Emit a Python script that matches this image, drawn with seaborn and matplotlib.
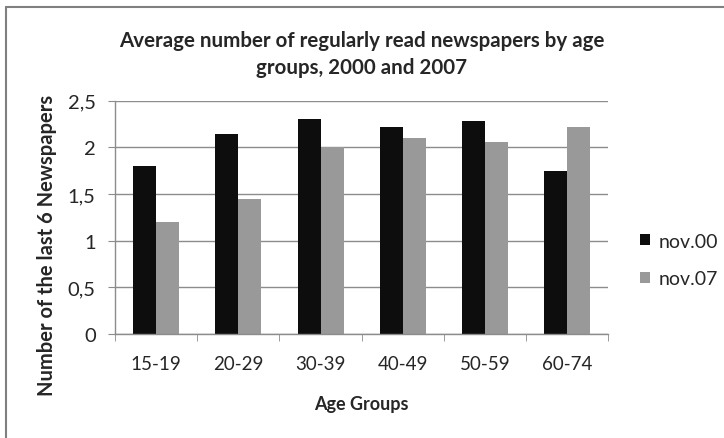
import pandas as pd
import numpy as np
import matplotlib
matplotlib.use("Agg")
import matplotlib.pyplot as plt
import seaborn as sns
from matplotlib.lines import Line2D

# values
age_groups = ['15-19', '20-29', '30-39', '40-49', '50-59', '60-74']
nov00 = [1.80, 2.14, 2.30, 2.22, 2.28, 1.75]
nov07 = [1.20, 1.45, 2.01, 2.10, 2.06, 2.22]
series_names = ['nov.00', 'nov.07']
y_ticks = [0, 0.5, 1, 1.5, 2, 2.5]
y_tick_labels = ['0', '0,5', '1', '1,5', '2', '2,5']

df = pd.DataFrame({'Age': age_groups * 2,
                   'Value': nov00 + nov07,
                   'Series': [series_names[0]] * 6 + [series_names[1]] * 6})

sns.set_style('white')
plt.rcParams['font.family'] = ['Lato', 'DejaVu Sans']

fig = plt.figure(figsize=(7.24, 4.39), dpi=100)
ax = fig.add_axes([0.159, 0.237, 0.681, 0.531])

sns.barplot(data=df, x='Age', y='Value', hue='Series', ax=ax,
            palette=['#0d0d0d', '#999999'], width=0.56, saturation=1,
            edgecolor='none', legend=True)

ax.set_ylim(0, 2.5)
ax.set_xlim(-0.5, 5.5)
ax.set_yticks(y_ticks)
ax.set_yticklabels(y_tick_labels, fontsize=14.5)
ax.yaxis.grid(True, color='#8c8c8c', linewidth=1)
ax.set_axisbelow(True)
ax.tick_params(axis='y', length=5, color='#8c8c8c', direction='out', left=True, pad=9)
ax.tick_params(axis='x', length=0, labelsize=13.5, pad=15)
ax.set_xticks(np.arange(-0.5, 6, 1), minor=True)
ax.tick_params(axis='x', which='minor', length=5, color='#8c8c8c', bottom=True, direction='out')

for s in ['top', 'right']:
    ax.spines[s].set_visible(False)
for s in ['left', 'bottom']:
    ax.spines[s].set_color('#8c8c8c')
    ax.spines[s].set_linewidth(1)

ax.set_xlabel('Age Groups', fontsize=13, fontweight='bold', labelpad=17)
ax.set_ylabel('Number of the last 6 Newspapers', fontsize=14.5, fontweight='bold')
ax.yaxis.set_label_coords(0.079, 0.44, transform=fig.transFigure)
fig.suptitle('Average number of regularly read newspapers by age\ngroups, 2000 and 2007',
             fontsize=14.8, fontweight='bold', y=0.93, linespacing=1.45)

handles, labels = ax.get_legend_handles_labels()
ax.legend(handles, labels, loc='center left', bbox_to_anchor=(1.065, 0.318),
          borderaxespad=0, borderpad=0, frameon=False, fontsize=14,
          handlelength=0.5, handleheight=0.5, handletextpad=0.45, labelspacing=1.05)

# chart frame (top and left edges visible in the crop)
fig.add_artist(Line2D([0.008, 1.0], [0.982, 0.982], color='#808080', linewidth=1.5))
fig.add_artist(Line2D([0.008, 0.008], [0.0, 0.982], color='#808080', linewidth=1.5))

fig.savefig('out.png', dpi=100)
